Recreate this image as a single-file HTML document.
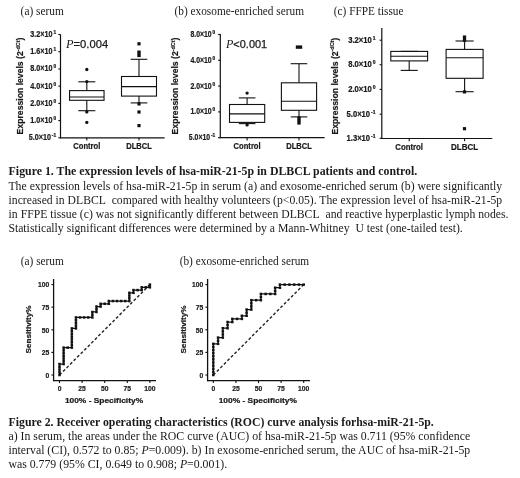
<!DOCTYPE html>
<html><head><meta charset="utf-8"><title>Figure</title>
<style>
html,body{margin:0;padding:0;background:#fff;width:520px;height:478px;overflow:hidden;}
body{position:relative;font-family:"Liberation Sans", sans-serif;}
svg text{white-space:pre;}
</style></head><body>
<svg width="520" height="478" viewBox="0 0 520 478" style="position:absolute;left:0;top:0;filter:grayscale(1)">
<rect width="520" height="478" fill="#fff"/>
<text x="20.6" y="15" font-family='"Liberation Serif", serif' font-size="13" font-weight="normal" text-anchor="start" fill="#1a1a1a" textLength="43.2" lengthAdjust="spacingAndGlyphs"  >(a) serum</text>
<text x="174.5" y="15" font-family='"Liberation Serif", serif' font-size="13" font-weight="normal" text-anchor="start" fill="#1a1a1a" textLength="129.5" lengthAdjust="spacingAndGlyphs"  >(b) exosome-enriched serum</text>
<text x="333.8" y="15" font-family='"Liberation Serif", serif' font-size="13" font-weight="normal" text-anchor="start" fill="#1a1a1a" textLength="69.7" lengthAdjust="spacingAndGlyphs"  >(c) FFPE tissue</text>
<line x1="60.5" y1="34.4" x2="60.5" y2="138.3" stroke="#111" stroke-width="1.2" />
<line x1="60" y1="137.8" x2="164.6" y2="137.8" stroke="#111" stroke-width="1.2" />
<line x1="58.3" y1="34.5" x2="60.5" y2="34.5" stroke="#111" stroke-width="1.1" />
<text x="52.5" y="37" font-family='"Liberation Sans", sans-serif' font-size="8.5" font-weight="bold" text-anchor="end" fill="#1a1a1a" textLength="22.2" lengthAdjust="spacingAndGlyphs"   stroke="#1a1a1a" stroke-width="0.22">3.2&#215;10</text>
<text x="53.4" y="34" font-family='"Liberation Sans", sans-serif' font-size="4.8" font-weight="bold" text-anchor="start" fill="#1a1a1a"   stroke="#1a1a1a" stroke-width="0.22">1</text>
<line x1="58.3" y1="51.72" x2="60.5" y2="51.72" stroke="#111" stroke-width="1.1" />
<text x="52.5" y="54.22" font-family='"Liberation Sans", sans-serif' font-size="8.5" font-weight="bold" text-anchor="end" fill="#1a1a1a" textLength="22.2" lengthAdjust="spacingAndGlyphs"   stroke="#1a1a1a" stroke-width="0.22">1.6&#215;10</text>
<text x="53.4" y="51.22" font-family='"Liberation Sans", sans-serif' font-size="4.8" font-weight="bold" text-anchor="start" fill="#1a1a1a"   stroke="#1a1a1a" stroke-width="0.22">1</text>
<line x1="58.3" y1="68.94" x2="60.5" y2="68.94" stroke="#111" stroke-width="1.1" />
<text x="52.5" y="71.44" font-family='"Liberation Sans", sans-serif' font-size="8.5" font-weight="bold" text-anchor="end" fill="#1a1a1a" textLength="22.2" lengthAdjust="spacingAndGlyphs"   stroke="#1a1a1a" stroke-width="0.22">8.0&#215;10</text>
<text x="53.4" y="68.44" font-family='"Liberation Sans", sans-serif' font-size="4.8" font-weight="bold" text-anchor="start" fill="#1a1a1a"   stroke="#1a1a1a" stroke-width="0.22">0</text>
<line x1="58.3" y1="86.16" x2="60.5" y2="86.16" stroke="#111" stroke-width="1.1" />
<text x="52.5" y="88.66" font-family='"Liberation Sans", sans-serif' font-size="8.5" font-weight="bold" text-anchor="end" fill="#1a1a1a" textLength="22.2" lengthAdjust="spacingAndGlyphs"   stroke="#1a1a1a" stroke-width="0.22">4.0&#215;10</text>
<text x="53.4" y="85.66" font-family='"Liberation Sans", sans-serif' font-size="4.8" font-weight="bold" text-anchor="start" fill="#1a1a1a"   stroke="#1a1a1a" stroke-width="0.22">0</text>
<line x1="58.3" y1="103.38" x2="60.5" y2="103.38" stroke="#111" stroke-width="1.1" />
<text x="52.5" y="105.88" font-family='"Liberation Sans", sans-serif' font-size="8.5" font-weight="bold" text-anchor="end" fill="#1a1a1a" textLength="22.2" lengthAdjust="spacingAndGlyphs"   stroke="#1a1a1a" stroke-width="0.22">2.0&#215;10</text>
<text x="53.4" y="102.88" font-family='"Liberation Sans", sans-serif' font-size="4.8" font-weight="bold" text-anchor="start" fill="#1a1a1a"   stroke="#1a1a1a" stroke-width="0.22">0</text>
<line x1="58.3" y1="120.6" x2="60.5" y2="120.6" stroke="#111" stroke-width="1.1" />
<text x="52.5" y="123.1" font-family='"Liberation Sans", sans-serif' font-size="8.5" font-weight="bold" text-anchor="end" fill="#1a1a1a" textLength="22.2" lengthAdjust="spacingAndGlyphs"   stroke="#1a1a1a" stroke-width="0.22">1.0&#215;10</text>
<text x="53.4" y="120.1" font-family='"Liberation Sans", sans-serif' font-size="4.8" font-weight="bold" text-anchor="start" fill="#1a1a1a"   stroke="#1a1a1a" stroke-width="0.22">0</text>
<line x1="58.3" y1="137.8" x2="60.5" y2="137.8" stroke="#111" stroke-width="1.1" />
<text x="50.9" y="140.3" font-family='"Liberation Sans", sans-serif' font-size="8.5" font-weight="bold" text-anchor="end" fill="#1a1a1a" textLength="22.2" lengthAdjust="spacingAndGlyphs"   stroke="#1a1a1a" stroke-width="0.22">5.0&#215;10</text>
<text x="51.8" y="137.3" font-family='"Liberation Sans", sans-serif' font-size="4.8" font-weight="bold" text-anchor="start" fill="#1a1a1a"   stroke="#1a1a1a" stroke-width="0.22">-1</text>
<line x1="86.8" y1="137.8" x2="86.8" y2="140.5" stroke="#111" stroke-width="1.1" />
<text x="86.8" y="149" font-family='"Liberation Sans", sans-serif' font-size="8.2" font-weight="bold" text-anchor="middle" fill="#1a1a1a" textLength="27" lengthAdjust="spacingAndGlyphs"   stroke="#1a1a1a" stroke-width="0.22">Control</text>
<line x1="86.8" y1="81.8" x2="86.8" y2="90.6" stroke="#111" stroke-width="1.1" />
<line x1="86.8" y1="100.3" x2="86.8" y2="110.7" stroke="#111" stroke-width="1.1" />
<line x1="78.3" y1="81.8" x2="95.3" y2="81.8" stroke="#111" stroke-width="1.1" />
<line x1="78.3" y1="110.7" x2="95.3" y2="110.7" stroke="#111" stroke-width="1.1" />
<rect x="69.55" y="90.6" width="34.5" height="9.7" fill="none" stroke="#111" stroke-width="1.1"/>
<line x1="69.55" y1="97" x2="104.05" y2="97" stroke="#111" stroke-width="1.1" />
<circle cx="86.8" cy="69.5" r="1.65" fill="#111"/>
<circle cx="86.8" cy="81.6" r="1.65" fill="#111"/>
<circle cx="86.8" cy="111.9" r="1.65" fill="#111"/>
<circle cx="86.8" cy="122.4" r="1.65" fill="#111"/>
<line x1="139" y1="137.8" x2="139" y2="140.5" stroke="#111" stroke-width="1.1" />
<text x="139" y="149" font-family='"Liberation Sans", sans-serif' font-size="8.2" font-weight="bold" text-anchor="middle" fill="#1a1a1a" textLength="25.5" lengthAdjust="spacingAndGlyphs"   stroke="#1a1a1a" stroke-width="0.22">DLBCL</text>
<line x1="139" y1="59.3" x2="139" y2="76.5" stroke="#111" stroke-width="1.1" />
<line x1="139" y1="96.1" x2="139" y2="102.9" stroke="#111" stroke-width="1.1" />
<line x1="130.7" y1="59.3" x2="147.3" y2="59.3" stroke="#111" stroke-width="1.1" />
<line x1="130.7" y1="102.9" x2="147.3" y2="102.9" stroke="#111" stroke-width="1.1" />
<rect x="121.5" y="76.5" width="35" height="19.6" fill="none" stroke="#111" stroke-width="1.1"/>
<line x1="121.5" y1="86.6" x2="156.5" y2="86.6" stroke="#111" stroke-width="1.1" />
<rect x="137.4" y="42.2" width="3.2" height="3.2" fill="#111"/>
<rect x="137.3" y="50.5" width="3.4" height="6.6" fill="#111"/>
<rect x="137.4" y="102.3" width="3.2" height="3.2" fill="#111"/>
<rect x="137.4" y="110.4" width="3.2" height="3.2" fill="#111"/>
<rect x="137.4" y="124" width="3.2" height="3.2" fill="#111"/>
<text transform="translate(23,134.4) rotate(-90)" font-family='"Liberation Sans", sans-serif' font-size="9.0" font-weight="bold" fill="#1a1a1a" stroke="#1a1a1a" stroke-width="0.2" textLength="96.8" lengthAdjust="spacingAndGlyphs">Expression levels (2<tspan dy="-3.4" font-size="5.6">-dCt</tspan><tspan dy="3.4">)</tspan></text>
<text x="66" y="48" font-size="10.9" fill="#1a1a1a" textLength="42.2" lengthAdjust="spacingAndGlyphs"><tspan font-family='"Liberation Serif", serif' font-style="italic" font-size="12">P</tspan><tspan font-family='"Liberation Sans", sans-serif' stroke="#1a1a1a" stroke-width="0.25">=0.004</tspan></text>
<line x1="220.3" y1="34" x2="220.3" y2="138.2" stroke="#111" stroke-width="1.2" />
<line x1="219.8" y1="137.7" x2="324.6" y2="137.7" stroke="#111" stroke-width="1.2" />
<line x1="218.1" y1="34.5" x2="220.3" y2="34.5" stroke="#111" stroke-width="1.1" />
<text x="211.7" y="37" font-family='"Liberation Sans", sans-serif' font-size="8.5" font-weight="bold" text-anchor="end" fill="#1a1a1a" textLength="21.3" lengthAdjust="spacingAndGlyphs"   stroke="#1a1a1a" stroke-width="0.22">8.0&#215;10</text>
<text x="212.6" y="34" font-family='"Liberation Sans", sans-serif' font-size="4.8" font-weight="bold" text-anchor="start" fill="#1a1a1a"   stroke="#1a1a1a" stroke-width="0.22">0</text>
<line x1="218.1" y1="60.3" x2="220.3" y2="60.3" stroke="#111" stroke-width="1.1" />
<text x="211.7" y="62.8" font-family='"Liberation Sans", sans-serif' font-size="8.5" font-weight="bold" text-anchor="end" fill="#1a1a1a" textLength="21.3" lengthAdjust="spacingAndGlyphs"   stroke="#1a1a1a" stroke-width="0.22">4.0&#215;10</text>
<text x="212.6" y="59.8" font-family='"Liberation Sans", sans-serif' font-size="4.8" font-weight="bold" text-anchor="start" fill="#1a1a1a"   stroke="#1a1a1a" stroke-width="0.22">0</text>
<line x1="218.1" y1="86.1" x2="220.3" y2="86.1" stroke="#111" stroke-width="1.1" />
<text x="211.7" y="88.6" font-family='"Liberation Sans", sans-serif' font-size="8.5" font-weight="bold" text-anchor="end" fill="#1a1a1a" textLength="21.3" lengthAdjust="spacingAndGlyphs"   stroke="#1a1a1a" stroke-width="0.22">2.0&#215;10</text>
<text x="212.6" y="85.6" font-family='"Liberation Sans", sans-serif' font-size="4.8" font-weight="bold" text-anchor="start" fill="#1a1a1a"   stroke="#1a1a1a" stroke-width="0.22">0</text>
<line x1="218.1" y1="111.9" x2="220.3" y2="111.9" stroke="#111" stroke-width="1.1" />
<text x="211.7" y="114.4" font-family='"Liberation Sans", sans-serif' font-size="8.5" font-weight="bold" text-anchor="end" fill="#1a1a1a" textLength="21.3" lengthAdjust="spacingAndGlyphs"   stroke="#1a1a1a" stroke-width="0.22">1.0&#215;10</text>
<text x="212.6" y="111.4" font-family='"Liberation Sans", sans-serif' font-size="4.8" font-weight="bold" text-anchor="start" fill="#1a1a1a"   stroke="#1a1a1a" stroke-width="0.22">0</text>
<line x1="218.1" y1="137.7" x2="220.3" y2="137.7" stroke="#111" stroke-width="1.1" />
<text x="210.1" y="140.2" font-family='"Liberation Sans", sans-serif' font-size="8.5" font-weight="bold" text-anchor="end" fill="#1a1a1a" textLength="21.3" lengthAdjust="spacingAndGlyphs"   stroke="#1a1a1a" stroke-width="0.22">5.0&#215;10</text>
<text x="211" y="137.2" font-family='"Liberation Sans", sans-serif' font-size="4.8" font-weight="bold" text-anchor="start" fill="#1a1a1a"   stroke="#1a1a1a" stroke-width="0.22">-1</text>
<line x1="247.1" y1="137.7" x2="247.1" y2="140.4" stroke="#111" stroke-width="1.1" />
<text x="247.1" y="148.9" font-family='"Liberation Sans", sans-serif' font-size="8.2" font-weight="bold" text-anchor="middle" fill="#1a1a1a" textLength="27" lengthAdjust="spacingAndGlyphs"   stroke="#1a1a1a" stroke-width="0.22">Control</text>
<line x1="247.1" y1="97.9" x2="247.1" y2="104.5" stroke="#111" stroke-width="1.1" />
<line x1="247.1" y1="122.4" x2="247.1" y2="123.6" stroke="#111" stroke-width="1.1" />
<line x1="238.8" y1="97.9" x2="255.4" y2="97.9" stroke="#111" stroke-width="1.1" />
<line x1="238.8" y1="123.6" x2="255.4" y2="123.6" stroke="#111" stroke-width="1.1" />
<rect x="229.5" y="104.5" width="35.2" height="17.9" fill="none" stroke="#111" stroke-width="1.1"/>
<line x1="229.5" y1="113.9" x2="264.7" y2="113.9" stroke="#111" stroke-width="1.1" />
<circle cx="247.1" cy="93.1" r="1.65" fill="#111"/>
<circle cx="247.1" cy="124.9" r="1.65" fill="#111"/>
<line x1="299" y1="137.7" x2="299" y2="140.4" stroke="#111" stroke-width="1.1" />
<text x="299" y="148.9" font-family='"Liberation Sans", sans-serif' font-size="8.2" font-weight="bold" text-anchor="middle" fill="#1a1a1a" textLength="25.5" lengthAdjust="spacingAndGlyphs"   stroke="#1a1a1a" stroke-width="0.22">DLBCL</text>
<line x1="299" y1="63.7" x2="299" y2="82.8" stroke="#111" stroke-width="1.1" />
<line x1="299" y1="110.3" x2="299" y2="116.9" stroke="#111" stroke-width="1.1" />
<line x1="290.75" y1="63.7" x2="307.25" y2="63.7" stroke="#111" stroke-width="1.1" />
<line x1="290.75" y1="116.9" x2="307.25" y2="116.9" stroke="#111" stroke-width="1.1" />
<rect x="281.4" y="82.8" width="35.2" height="27.5" fill="none" stroke="#111" stroke-width="1.1"/>
<line x1="281.4" y1="101.3" x2="316.6" y2="101.3" stroke="#111" stroke-width="1.1" />
<rect x="295.8" y="45.4" width="6.4" height="3.4" fill="#111"/>
<rect x="297.3" y="116.4" width="3.4" height="8.2" fill="#111"/>
<text transform="translate(177.9,134.4) rotate(-90)" font-family='"Liberation Sans", sans-serif' font-size="9.0" font-weight="bold" fill="#1a1a1a" stroke="#1a1a1a" stroke-width="0.2" textLength="96.8" lengthAdjust="spacingAndGlyphs">Expression levels (2<tspan dy="-3.4" font-size="5.6">-dCt</tspan><tspan dy="3.4">)</tspan></text>
<text x="226" y="48" font-size="10.9" fill="#1a1a1a" textLength="41.2" lengthAdjust="spacingAndGlyphs"><tspan font-family='"Liberation Serif", serif' font-style="italic" font-size="12">P</tspan><tspan font-family='"Liberation Sans", sans-serif' stroke="#1a1a1a" stroke-width="0.25">&lt;0.001</tspan></text>
<line x1="381.8" y1="28.1" x2="381.8" y2="139" stroke="#111" stroke-width="1.2" />
<line x1="381.3" y1="138.5" x2="492.3" y2="138.5" stroke="#111" stroke-width="1.2" />
<line x1="379.6" y1="40.2" x2="381.8" y2="40.2" stroke="#111" stroke-width="1.1" />
<text x="371.8" y="42.7" font-family='"Liberation Sans", sans-serif' font-size="8.8" font-weight="bold" text-anchor="end" fill="#1a1a1a" textLength="23.6" lengthAdjust="spacingAndGlyphs"   stroke="#1a1a1a" stroke-width="0.22">3.2&#215;10</text>
<text x="372.7" y="39.7" font-family='"Liberation Sans", sans-serif' font-size="5" font-weight="bold" text-anchor="start" fill="#1a1a1a"   stroke="#1a1a1a" stroke-width="0.22">1</text>
<line x1="379.6" y1="64.7" x2="381.8" y2="64.7" stroke="#111" stroke-width="1.1" />
<text x="371.8" y="67.2" font-family='"Liberation Sans", sans-serif' font-size="8.8" font-weight="bold" text-anchor="end" fill="#1a1a1a" textLength="23.6" lengthAdjust="spacingAndGlyphs"   stroke="#1a1a1a" stroke-width="0.22">8.0&#215;10</text>
<text x="372.7" y="64.2" font-family='"Liberation Sans", sans-serif' font-size="5" font-weight="bold" text-anchor="start" fill="#1a1a1a"   stroke="#1a1a1a" stroke-width="0.22">0</text>
<line x1="379.6" y1="89.4" x2="381.8" y2="89.4" stroke="#111" stroke-width="1.1" />
<text x="371.8" y="91.9" font-family='"Liberation Sans", sans-serif' font-size="8.8" font-weight="bold" text-anchor="end" fill="#1a1a1a" textLength="23.6" lengthAdjust="spacingAndGlyphs"   stroke="#1a1a1a" stroke-width="0.22">2.0&#215;10</text>
<text x="372.7" y="88.9" font-family='"Liberation Sans", sans-serif' font-size="5" font-weight="bold" text-anchor="start" fill="#1a1a1a"   stroke="#1a1a1a" stroke-width="0.22">0</text>
<line x1="379.6" y1="114.2" x2="381.8" y2="114.2" stroke="#111" stroke-width="1.1" />
<text x="370.13" y="116.7" font-family='"Liberation Sans", sans-serif' font-size="8.8" font-weight="bold" text-anchor="end" fill="#1a1a1a" textLength="23.6" lengthAdjust="spacingAndGlyphs"   stroke="#1a1a1a" stroke-width="0.22">5.0&#215;10</text>
<text x="371.03" y="113.7" font-family='"Liberation Sans", sans-serif' font-size="5" font-weight="bold" text-anchor="start" fill="#1a1a1a"   stroke="#1a1a1a" stroke-width="0.22">-1</text>
<line x1="379.6" y1="138.3" x2="381.8" y2="138.3" stroke="#111" stroke-width="1.1" />
<text x="370.13" y="140.8" font-family='"Liberation Sans", sans-serif' font-size="8.8" font-weight="bold" text-anchor="end" fill="#1a1a1a" textLength="23.6" lengthAdjust="spacingAndGlyphs"   stroke="#1a1a1a" stroke-width="0.22">1.3&#215;10</text>
<text x="371.03" y="137.8" font-family='"Liberation Sans", sans-serif' font-size="5" font-weight="bold" text-anchor="start" fill="#1a1a1a"   stroke="#1a1a1a" stroke-width="0.22">-1</text>
<line x1="409.2" y1="138.5" x2="409.2" y2="141.2" stroke="#111" stroke-width="1.1" />
<text x="409.2" y="150.1" font-family='"Liberation Sans", sans-serif' font-size="8.2" font-weight="bold" text-anchor="middle" fill="#1a1a1a" textLength="27.7" lengthAdjust="spacingAndGlyphs"   stroke="#1a1a1a" stroke-width="0.22">Control</text>
<line x1="409.2" y1="51.4" x2="409.2" y2="51.4" stroke="#111" stroke-width="1.1" />
<line x1="409.2" y1="60.9" x2="409.2" y2="70.4" stroke="#111" stroke-width="1.1" />
<line x1="400.65" y1="51.4" x2="417.75" y2="51.4" stroke="#111" stroke-width="1.1" />
<line x1="400.65" y1="70.4" x2="417.75" y2="70.4" stroke="#111" stroke-width="1.1" />
<rect x="390.8" y="51.4" width="36.8" height="9.5" fill="none" stroke="#111" stroke-width="1.1"/>
<line x1="390.8" y1="56.2" x2="427.6" y2="56.2" stroke="#111" stroke-width="1.1" />
<line x1="464.6" y1="138.5" x2="464.6" y2="141.2" stroke="#111" stroke-width="1.1" />
<text x="464.6" y="150.1" font-family='"Liberation Sans", sans-serif' font-size="8.2" font-weight="bold" text-anchor="middle" fill="#1a1a1a" textLength="27.1" lengthAdjust="spacingAndGlyphs"   stroke="#1a1a1a" stroke-width="0.22">DLBCL</text>
<line x1="464.6" y1="41" x2="464.6" y2="49.4" stroke="#111" stroke-width="1.1" />
<line x1="464.6" y1="78.3" x2="464.6" y2="91.7" stroke="#111" stroke-width="1.1" />
<line x1="455.5" y1="41" x2="473.7" y2="41" stroke="#111" stroke-width="1.1" />
<line x1="455.5" y1="91.7" x2="473.7" y2="91.7" stroke="#111" stroke-width="1.1" />
<rect x="446.1" y="49.4" width="37" height="28.9" fill="none" stroke="#111" stroke-width="1.1"/>
<line x1="446.1" y1="57.8" x2="483.1" y2="57.8" stroke="#111" stroke-width="1.1" />
<rect x="462.85" y="35.45" width="3.3" height="6.5" fill="#111"/>
<rect x="462.9" y="90.3" width="3.2" height="3.2" fill="#111"/>
<rect x="462.9" y="127.1" width="3.2" height="3.2" fill="#111"/>
<text transform="translate(337.5,134.6) rotate(-90)" font-family='"Liberation Sans", sans-serif' font-size="9.0" font-weight="bold" fill="#1a1a1a" stroke="#1a1a1a" stroke-width="0.2" textLength="96.8" lengthAdjust="spacingAndGlyphs">Expression levels (2<tspan dy="-3.4" font-size="5.6">-dCt</tspan><tspan dy="3.4">)</tspan></text>
<text x="8.6" y="175.4" font-family='"Liberation Serif", serif' font-size="11.8" font-weight="bold" text-anchor="start" fill="#1a1a1a" textLength="408.7" lengthAdjust="spacingAndGlyphs"  >Figure 1. The expression levels of hsa-miR-21-5p in DLBCL patients and control.</text>
<text x="8.4" y="189.6" font-family='"Liberation Serif", serif' font-size="11.8" font-weight="normal" text-anchor="start" fill="#1a1a1a" textLength="493.8" lengthAdjust="spacingAndGlyphs"  >The expression levels of hsa-miR-21-5p in serum (a) and exosome-enriched serum (b) were significantly</text>
<text x="8.6" y="204.2" font-family='"Liberation Serif", serif' font-size="11.8" font-weight="normal" text-anchor="start" fill="#1a1a1a" textLength="493.6" lengthAdjust="spacingAndGlyphs"  >increased in DLBCL&#160; compared with healthy volunteers (p&lt;0.05). The expression level of hsa-miR-21-5p</text>
<text x="8.6" y="218.1" font-family='"Liberation Serif", serif' font-size="11.8" font-weight="normal" text-anchor="start" fill="#1a1a1a" textLength="499.9" lengthAdjust="spacingAndGlyphs"  >in FFPE tissue (c) was not significantly different between DLBCL&#160; and reactive hyperplastic lymph nodes.</text>
<text x="8.4" y="231.9" font-family='"Liberation Serif", serif' font-size="11.8" font-weight="normal" text-anchor="start" fill="#1a1a1a" textLength="454.4" lengthAdjust="spacingAndGlyphs"  >Statistically significant differences were determined by a Mann-Whitney&#160; U test (one-tailed test).</text>
<text x="20.7" y="264.9" font-family='"Liberation Serif", serif' font-size="13" font-weight="normal" text-anchor="start" fill="#1a1a1a" textLength="43.2" lengthAdjust="spacingAndGlyphs"  >(a) serum</text>
<text x="179.7" y="264.9" font-family='"Liberation Serif", serif' font-size="13" font-weight="normal" text-anchor="start" fill="#1a1a1a" textLength="129.5" lengthAdjust="spacingAndGlyphs"  >(b) exosome-enriched serum</text>
<line x1="53.6" y1="279" x2="53.6" y2="381.2" stroke="#111" stroke-width="1.3" />
<line x1="53" y1="380.6" x2="156" y2="380.6" stroke="#111" stroke-width="1.3" />
<line x1="51.4" y1="375" x2="53.6" y2="375" stroke="#111" stroke-width="1.1" />
<text x="49.3" y="377.8" font-family='"Liberation Sans", sans-serif' font-size="7.9" font-weight="bold" text-anchor="end" fill="#1a1a1a" textLength="3.75" lengthAdjust="spacingAndGlyphs"   stroke="#1a1a1a" stroke-width="0.22">0</text>
<line x1="59.5" y1="380.6" x2="59.5" y2="383.1" stroke="#111" stroke-width="1.1" />
<text x="59.5" y="391.4" font-family='"Liberation Sans", sans-serif' font-size="7.9" font-weight="bold" text-anchor="middle" fill="#1a1a1a" textLength="3.75" lengthAdjust="spacingAndGlyphs"   stroke="#1a1a1a" stroke-width="0.22">0</text>
<line x1="51.4" y1="352.4" x2="53.6" y2="352.4" stroke="#111" stroke-width="1.1" />
<text x="49.3" y="355.2" font-family='"Liberation Sans", sans-serif' font-size="7.9" font-weight="bold" text-anchor="end" fill="#1a1a1a" textLength="7.5" lengthAdjust="spacingAndGlyphs"   stroke="#1a1a1a" stroke-width="0.22">25</text>
<line x1="82.1" y1="380.6" x2="82.1" y2="383.1" stroke="#111" stroke-width="1.1" />
<text x="82.1" y="391.4" font-family='"Liberation Sans", sans-serif' font-size="7.9" font-weight="bold" text-anchor="middle" fill="#1a1a1a" textLength="7.5" lengthAdjust="spacingAndGlyphs"   stroke="#1a1a1a" stroke-width="0.22">25</text>
<line x1="51.4" y1="329.8" x2="53.6" y2="329.8" stroke="#111" stroke-width="1.1" />
<text x="49.3" y="332.6" font-family='"Liberation Sans", sans-serif' font-size="7.9" font-weight="bold" text-anchor="end" fill="#1a1a1a" textLength="7.5" lengthAdjust="spacingAndGlyphs"   stroke="#1a1a1a" stroke-width="0.22">50</text>
<line x1="104.7" y1="380.6" x2="104.7" y2="383.1" stroke="#111" stroke-width="1.1" />
<text x="104.7" y="391.4" font-family='"Liberation Sans", sans-serif' font-size="7.9" font-weight="bold" text-anchor="middle" fill="#1a1a1a" textLength="7.5" lengthAdjust="spacingAndGlyphs"   stroke="#1a1a1a" stroke-width="0.22">50</text>
<line x1="51.4" y1="307.2" x2="53.6" y2="307.2" stroke="#111" stroke-width="1.1" />
<text x="49.3" y="310" font-family='"Liberation Sans", sans-serif' font-size="7.9" font-weight="bold" text-anchor="end" fill="#1a1a1a" textLength="7.5" lengthAdjust="spacingAndGlyphs"   stroke="#1a1a1a" stroke-width="0.22">75</text>
<line x1="127.3" y1="380.6" x2="127.3" y2="383.1" stroke="#111" stroke-width="1.1" />
<text x="127.3" y="391.4" font-family='"Liberation Sans", sans-serif' font-size="7.9" font-weight="bold" text-anchor="middle" fill="#1a1a1a" textLength="7.5" lengthAdjust="spacingAndGlyphs"   stroke="#1a1a1a" stroke-width="0.22">75</text>
<line x1="51.4" y1="284.6" x2="53.6" y2="284.6" stroke="#111" stroke-width="1.1" />
<text x="49.3" y="287.4" font-family='"Liberation Sans", sans-serif' font-size="7.9" font-weight="bold" text-anchor="end" fill="#1a1a1a" textLength="11.25" lengthAdjust="spacingAndGlyphs"   stroke="#1a1a1a" stroke-width="0.22">100</text>
<line x1="149.9" y1="380.6" x2="149.9" y2="383.1" stroke="#111" stroke-width="1.1" />
<text x="149.9" y="391.4" font-family='"Liberation Sans", sans-serif' font-size="7.9" font-weight="bold" text-anchor="middle" fill="#1a1a1a" textLength="11.25" lengthAdjust="spacingAndGlyphs"   stroke="#1a1a1a" stroke-width="0.22">100</text>
<line x1="59.5" y1="375" x2="149.9" y2="284.6" stroke="#222" stroke-width="1.4" stroke-dasharray="2.9 2.1"/>
<path d="M59.5 375 L59.5 364.04 L63.61 364.04 L63.61 347.61 L71.83 347.61 L71.83 328.43 L75.94 328.43 L75.94 317.47 L92.37 317.47 L92.37 311.99 L96.48 311.99 L96.48 306.52 L100.59 306.52 L100.59 303.78 L108.81 303.78 L108.81 301.04 L129.35 301.04 L129.35 292.82 L133.46 292.82 L133.46 290.08 L141.68 290.08 L141.68 287.34 L149.9 287.34 L149.9 284.6" fill="none" stroke="#111" stroke-width="1.25"/>
<rect x="58.25" y="373.75" width="2.5" height="2.5" fill="#111"/>
<rect x="58.25" y="371.01" width="2.5" height="2.5" fill="#111"/>
<rect x="58.25" y="368.27" width="2.5" height="2.5" fill="#111"/>
<rect x="58.25" y="365.53" width="2.5" height="2.5" fill="#111"/>
<rect x="58.25" y="362.79" width="2.5" height="2.5" fill="#111"/>
<rect x="62.36" y="362.79" width="2.5" height="2.5" fill="#111"/>
<rect x="62.36" y="360.05" width="2.5" height="2.5" fill="#111"/>
<rect x="62.36" y="357.31" width="2.5" height="2.5" fill="#111"/>
<rect x="62.36" y="354.57" width="2.5" height="2.5" fill="#111"/>
<rect x="62.36" y="351.83" width="2.5" height="2.5" fill="#111"/>
<rect x="62.36" y="349.1" width="2.5" height="2.5" fill="#111"/>
<rect x="62.36" y="346.36" width="2.5" height="2.5" fill="#111"/>
<rect x="66.47" y="346.36" width="2.5" height="2.5" fill="#111"/>
<rect x="70.58" y="346.36" width="2.5" height="2.5" fill="#111"/>
<rect x="70.58" y="343.62" width="2.5" height="2.5" fill="#111"/>
<rect x="70.58" y="340.88" width="2.5" height="2.5" fill="#111"/>
<rect x="70.58" y="338.14" width="2.5" height="2.5" fill="#111"/>
<rect x="70.58" y="335.4" width="2.5" height="2.5" fill="#111"/>
<rect x="70.58" y="332.66" width="2.5" height="2.5" fill="#111"/>
<rect x="70.58" y="329.92" width="2.5" height="2.5" fill="#111"/>
<rect x="70.58" y="327.18" width="2.5" height="2.5" fill="#111"/>
<rect x="74.69" y="327.18" width="2.5" height="2.5" fill="#111"/>
<rect x="74.69" y="324.44" width="2.5" height="2.5" fill="#111"/>
<rect x="74.69" y="321.7" width="2.5" height="2.5" fill="#111"/>
<rect x="74.69" y="318.96" width="2.5" height="2.5" fill="#111"/>
<rect x="74.69" y="316.22" width="2.5" height="2.5" fill="#111"/>
<rect x="78.8" y="316.22" width="2.5" height="2.5" fill="#111"/>
<rect x="82.9" y="316.22" width="2.5" height="2.5" fill="#111"/>
<rect x="87.01" y="316.22" width="2.5" height="2.5" fill="#111"/>
<rect x="91.12" y="316.22" width="2.5" height="2.5" fill="#111"/>
<rect x="91.12" y="313.48" width="2.5" height="2.5" fill="#111"/>
<rect x="91.12" y="310.74" width="2.5" height="2.5" fill="#111"/>
<rect x="95.23" y="310.74" width="2.5" height="2.5" fill="#111"/>
<rect x="95.23" y="308" width="2.5" height="2.5" fill="#111"/>
<rect x="95.23" y="305.27" width="2.5" height="2.5" fill="#111"/>
<rect x="99.34" y="305.27" width="2.5" height="2.5" fill="#111"/>
<rect x="99.34" y="302.53" width="2.5" height="2.5" fill="#111"/>
<rect x="103.45" y="302.53" width="2.5" height="2.5" fill="#111"/>
<rect x="107.56" y="302.53" width="2.5" height="2.5" fill="#111"/>
<rect x="107.56" y="299.79" width="2.5" height="2.5" fill="#111"/>
<rect x="111.67" y="299.79" width="2.5" height="2.5" fill="#111"/>
<rect x="115.78" y="299.79" width="2.5" height="2.5" fill="#111"/>
<rect x="119.89" y="299.79" width="2.5" height="2.5" fill="#111"/>
<rect x="124" y="299.79" width="2.5" height="2.5" fill="#111"/>
<rect x="128.1" y="299.79" width="2.5" height="2.5" fill="#111"/>
<rect x="128.1" y="297.05" width="2.5" height="2.5" fill="#111"/>
<rect x="128.1" y="294.31" width="2.5" height="2.5" fill="#111"/>
<rect x="128.1" y="291.57" width="2.5" height="2.5" fill="#111"/>
<rect x="132.21" y="291.57" width="2.5" height="2.5" fill="#111"/>
<rect x="132.21" y="288.83" width="2.5" height="2.5" fill="#111"/>
<rect x="136.32" y="288.83" width="2.5" height="2.5" fill="#111"/>
<rect x="140.43" y="288.83" width="2.5" height="2.5" fill="#111"/>
<rect x="140.43" y="286.09" width="2.5" height="2.5" fill="#111"/>
<rect x="144.54" y="286.09" width="2.5" height="2.5" fill="#111"/>
<rect x="148.65" y="286.09" width="2.5" height="2.5" fill="#111"/>
<rect x="148.65" y="283.35" width="2.5" height="2.5" fill="#111"/>
<text transform="translate(31,353.4) rotate(-90)" font-family='"Liberation Sans", sans-serif' font-size="7.6" font-weight="bold" fill="#1a1a1a" stroke="#1a1a1a" stroke-width="0.2" textLength="48" lengthAdjust="spacingAndGlyphs">Sensitivity%</text>
<text x="104" y="402.8" font-family='"Liberation Sans", sans-serif' font-size="7.6" font-weight="bold" text-anchor="middle" fill="#1a1a1a" textLength="78.2" lengthAdjust="spacingAndGlyphs"   stroke="#1a1a1a" stroke-width="0.22">100% - Specificity%</text>
<line x1="207.6" y1="279" x2="207.6" y2="381.2" stroke="#111" stroke-width="1.3" />
<line x1="207" y1="380.6" x2="310" y2="380.6" stroke="#111" stroke-width="1.3" />
<line x1="205.4" y1="375" x2="207.6" y2="375" stroke="#111" stroke-width="1.1" />
<text x="203.3" y="377.8" font-family='"Liberation Sans", sans-serif' font-size="7.9" font-weight="bold" text-anchor="end" fill="#1a1a1a" textLength="3.75" lengthAdjust="spacingAndGlyphs"   stroke="#1a1a1a" stroke-width="0.22">0</text>
<line x1="213.3" y1="380.6" x2="213.3" y2="383.1" stroke="#111" stroke-width="1.1" />
<text x="213.3" y="391.4" font-family='"Liberation Sans", sans-serif' font-size="7.9" font-weight="bold" text-anchor="middle" fill="#1a1a1a" textLength="3.75" lengthAdjust="spacingAndGlyphs"   stroke="#1a1a1a" stroke-width="0.22">0</text>
<line x1="205.4" y1="352.4" x2="207.6" y2="352.4" stroke="#111" stroke-width="1.1" />
<text x="203.3" y="355.2" font-family='"Liberation Sans", sans-serif' font-size="7.9" font-weight="bold" text-anchor="end" fill="#1a1a1a" textLength="7.5" lengthAdjust="spacingAndGlyphs"   stroke="#1a1a1a" stroke-width="0.22">25</text>
<line x1="235.9" y1="380.6" x2="235.9" y2="383.1" stroke="#111" stroke-width="1.1" />
<text x="235.9" y="391.4" font-family='"Liberation Sans", sans-serif' font-size="7.9" font-weight="bold" text-anchor="middle" fill="#1a1a1a" textLength="7.5" lengthAdjust="spacingAndGlyphs"   stroke="#1a1a1a" stroke-width="0.22">25</text>
<line x1="205.4" y1="329.8" x2="207.6" y2="329.8" stroke="#111" stroke-width="1.1" />
<text x="203.3" y="332.6" font-family='"Liberation Sans", sans-serif' font-size="7.9" font-weight="bold" text-anchor="end" fill="#1a1a1a" textLength="7.5" lengthAdjust="spacingAndGlyphs"   stroke="#1a1a1a" stroke-width="0.22">50</text>
<line x1="258.5" y1="380.6" x2="258.5" y2="383.1" stroke="#111" stroke-width="1.1" />
<text x="258.5" y="391.4" font-family='"Liberation Sans", sans-serif' font-size="7.9" font-weight="bold" text-anchor="middle" fill="#1a1a1a" textLength="7.5" lengthAdjust="spacingAndGlyphs"   stroke="#1a1a1a" stroke-width="0.22">50</text>
<line x1="205.4" y1="307.2" x2="207.6" y2="307.2" stroke="#111" stroke-width="1.1" />
<text x="203.3" y="310" font-family='"Liberation Sans", sans-serif' font-size="7.9" font-weight="bold" text-anchor="end" fill="#1a1a1a" textLength="7.5" lengthAdjust="spacingAndGlyphs"   stroke="#1a1a1a" stroke-width="0.22">75</text>
<line x1="281.1" y1="380.6" x2="281.1" y2="383.1" stroke="#111" stroke-width="1.1" />
<text x="281.1" y="391.4" font-family='"Liberation Sans", sans-serif' font-size="7.9" font-weight="bold" text-anchor="middle" fill="#1a1a1a" textLength="7.5" lengthAdjust="spacingAndGlyphs"   stroke="#1a1a1a" stroke-width="0.22">75</text>
<line x1="205.4" y1="284.6" x2="207.6" y2="284.6" stroke="#111" stroke-width="1.1" />
<text x="203.3" y="287.4" font-family='"Liberation Sans", sans-serif' font-size="7.9" font-weight="bold" text-anchor="end" fill="#1a1a1a" textLength="11.25" lengthAdjust="spacingAndGlyphs"   stroke="#1a1a1a" stroke-width="0.22">100</text>
<line x1="303.7" y1="380.6" x2="303.7" y2="383.1" stroke="#111" stroke-width="1.1" />
<text x="303.7" y="391.4" font-family='"Liberation Sans", sans-serif' font-size="7.9" font-weight="bold" text-anchor="middle" fill="#1a1a1a" textLength="11.25" lengthAdjust="spacingAndGlyphs"   stroke="#1a1a1a" stroke-width="0.22">100</text>
<line x1="213.3" y1="375" x2="303.7" y2="284.6" stroke="#222" stroke-width="1.4" stroke-dasharray="2.9 2.1"/>
<path d="M213.3 375 L213.3 343.83 L218.06 343.83 L218.06 337.59 L222.82 337.59 L222.82 328.24 L227.57 328.24 L227.57 322.01 L232.33 322.01 L232.33 318.89 L241.85 318.89 L241.85 315.77 L246.61 315.77 L246.61 309.54 L251.36 309.54 L251.36 300.19 L260.88 300.19 L260.88 293.95 L275.15 293.95 L275.15 287.72 L279.91 287.72 L279.91 284.6 L303.7 284.6" fill="none" stroke="#111" stroke-width="1.25"/>
<rect x="212.05" y="373.75" width="2.5" height="2.5" fill="#111"/>
<rect x="212.05" y="370.63" width="2.5" height="2.5" fill="#111"/>
<rect x="212.05" y="367.52" width="2.5" height="2.5" fill="#111"/>
<rect x="212.05" y="364.4" width="2.5" height="2.5" fill="#111"/>
<rect x="212.05" y="361.28" width="2.5" height="2.5" fill="#111"/>
<rect x="212.05" y="358.16" width="2.5" height="2.5" fill="#111"/>
<rect x="212.05" y="355.05" width="2.5" height="2.5" fill="#111"/>
<rect x="212.05" y="351.93" width="2.5" height="2.5" fill="#111"/>
<rect x="212.05" y="348.81" width="2.5" height="2.5" fill="#111"/>
<rect x="212.05" y="345.69" width="2.5" height="2.5" fill="#111"/>
<rect x="212.05" y="342.58" width="2.5" height="2.5" fill="#111"/>
<rect x="216.81" y="342.58" width="2.5" height="2.5" fill="#111"/>
<rect x="216.81" y="339.46" width="2.5" height="2.5" fill="#111"/>
<rect x="216.81" y="336.34" width="2.5" height="2.5" fill="#111"/>
<rect x="221.57" y="336.34" width="2.5" height="2.5" fill="#111"/>
<rect x="221.57" y="333.23" width="2.5" height="2.5" fill="#111"/>
<rect x="221.57" y="330.11" width="2.5" height="2.5" fill="#111"/>
<rect x="221.57" y="326.99" width="2.5" height="2.5" fill="#111"/>
<rect x="226.32" y="326.99" width="2.5" height="2.5" fill="#111"/>
<rect x="226.32" y="323.87" width="2.5" height="2.5" fill="#111"/>
<rect x="226.32" y="320.76" width="2.5" height="2.5" fill="#111"/>
<rect x="231.08" y="320.76" width="2.5" height="2.5" fill="#111"/>
<rect x="231.08" y="317.64" width="2.5" height="2.5" fill="#111"/>
<rect x="235.84" y="317.64" width="2.5" height="2.5" fill="#111"/>
<rect x="240.6" y="317.64" width="2.5" height="2.5" fill="#111"/>
<rect x="240.6" y="314.52" width="2.5" height="2.5" fill="#111"/>
<rect x="245.36" y="314.52" width="2.5" height="2.5" fill="#111"/>
<rect x="245.36" y="311.41" width="2.5" height="2.5" fill="#111"/>
<rect x="245.36" y="308.29" width="2.5" height="2.5" fill="#111"/>
<rect x="250.11" y="308.29" width="2.5" height="2.5" fill="#111"/>
<rect x="250.11" y="305.17" width="2.5" height="2.5" fill="#111"/>
<rect x="250.11" y="302.05" width="2.5" height="2.5" fill="#111"/>
<rect x="250.11" y="298.94" width="2.5" height="2.5" fill="#111"/>
<rect x="254.87" y="298.94" width="2.5" height="2.5" fill="#111"/>
<rect x="259.63" y="298.94" width="2.5" height="2.5" fill="#111"/>
<rect x="259.63" y="295.82" width="2.5" height="2.5" fill="#111"/>
<rect x="259.63" y="292.7" width="2.5" height="2.5" fill="#111"/>
<rect x="264.39" y="292.7" width="2.5" height="2.5" fill="#111"/>
<rect x="269.14" y="292.7" width="2.5" height="2.5" fill="#111"/>
<rect x="273.9" y="292.7" width="2.5" height="2.5" fill="#111"/>
<rect x="273.9" y="289.58" width="2.5" height="2.5" fill="#111"/>
<rect x="273.9" y="286.47" width="2.5" height="2.5" fill="#111"/>
<rect x="278.66" y="286.47" width="2.5" height="2.5" fill="#111"/>
<rect x="278.66" y="283.35" width="2.5" height="2.5" fill="#111"/>
<rect x="283.42" y="283.35" width="2.5" height="2.5" fill="#111"/>
<rect x="288.18" y="283.35" width="2.5" height="2.5" fill="#111"/>
<rect x="292.93" y="283.35" width="2.5" height="2.5" fill="#111"/>
<rect x="297.69" y="283.35" width="2.5" height="2.5" fill="#111"/>
<rect x="302.45" y="283.35" width="2.5" height="2.5" fill="#111"/>
<text transform="translate(186,353.4) rotate(-90)" font-family='"Liberation Sans", sans-serif' font-size="7.6" font-weight="bold" fill="#1a1a1a" stroke="#1a1a1a" stroke-width="0.2" textLength="48" lengthAdjust="spacingAndGlyphs">Sensitivity%</text>
<text x="257.8" y="402.8" font-family='"Liberation Sans", sans-serif' font-size="7.6" font-weight="bold" text-anchor="middle" fill="#1a1a1a" textLength="78.2" lengthAdjust="spacingAndGlyphs"   stroke="#1a1a1a" stroke-width="0.22">100% - Specificity%</text>
<text x="8.6" y="425.6" font-family='"Liberation Serif", serif' font-size="11.8" font-weight="bold" text-anchor="start" fill="#1a1a1a" textLength="425.2" lengthAdjust="spacingAndGlyphs"  >Figure 2. Receiver operating characteristics (ROC) curve analysis forhsa-miR-21-5p.</text>
<text x="8.4" y="439.7" font-family='"Liberation Serif", serif' font-size="11.8" font-weight="normal" text-anchor="start" fill="#1a1a1a" textLength="461.8" lengthAdjust="spacingAndGlyphs"  >a) In serum, the areas under the ROC curve (AUC) of hsa-miR-21-5p was 0.711 (95% confidence</text>
<text x="8.4" y="453.8" font-family='"Liberation Serif", serif' font-size="11.8" font-weight="normal" text-anchor="start" fill="#1a1a1a" textLength="461.8" lengthAdjust="spacingAndGlyphs"  >interval (CI), 0.572 to 0.85; <tspan font-style="italic">P</tspan>=0.009). b) In exosome-enriched serum, the AUC of hsa-miR-21-5p</text>
<text x="8.4" y="468.2" font-family='"Liberation Serif", serif' font-size="11.8" font-weight="normal" text-anchor="start" fill="#1a1a1a" textLength="218.8" lengthAdjust="spacingAndGlyphs"  >was 0.779 (95% CI, 0.649 to 0.908; <tspan font-style="italic">P</tspan>=0.001).</text>
</svg>
</body></html>
